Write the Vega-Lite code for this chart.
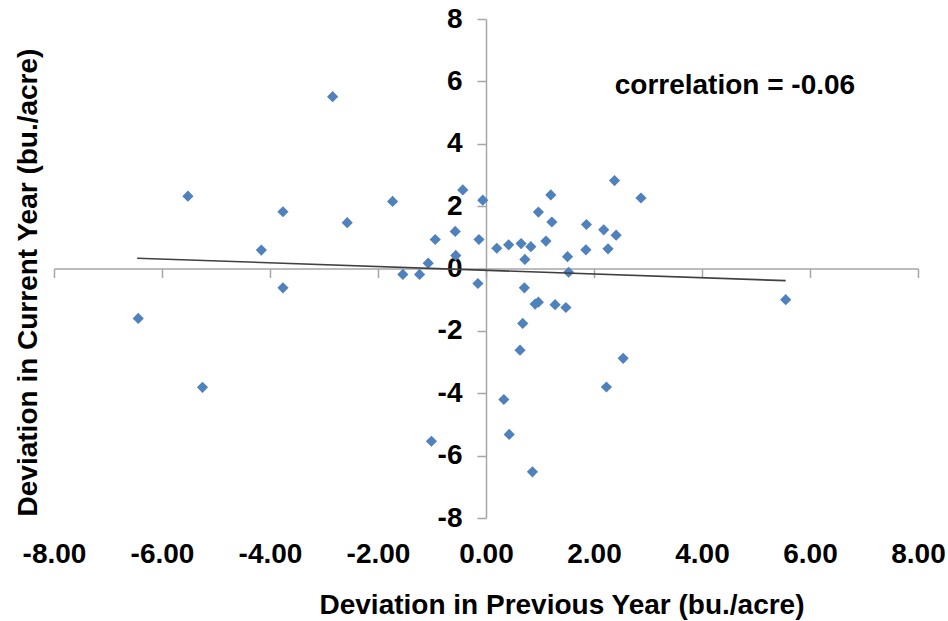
{
  "$schema": "https://vega.github.io/schema/vega-lite/v6.json",
  "width": 864,
  "height": 499,
  "autosize": "none",
  "padding": {"left": 54, "top": 19, "right": 30, "bottom": 103},
  "config": {
    "view": {"stroke": null},
    "locale": {"number": {"decimal": ".", "thousands": ",", "grouping": [3], "currency": ["$", ""], "minus": "-"}},
    "axis": {"grid": false}
  },
  "encoding": {
    "x": {
      "field": "x", "type": "quantitative",
      "scale": {"domain": [-8, 8], "nice": false, "zero": false},
      "axis": {
        "title": "Deviation in Previous Year (bu./acre)",
        "values": [-8, -6, -4, -2, 0, 2, 4, 6, 8],
        "format": ".2f",
        "offset": -249.5,
        "domainColor": "#a6a6a6", "domainWidth": 1.5,
        "tickColor": "#a6a6a6", "tickWidth": 1.5, "tickSize": 9,
        "labelPadding": 263,
        "labelFont": "Liberation Sans", "labelFontSize": 28, "labelFontWeight": "bold", "labelColor": "#000000",
        "labelFlush": false, "labelOverlap": false,
        "titleFont": "Liberation Sans", "titleFontSize": 28, "titleFontWeight": "bold", "titleColor": "#000000",
        "titleX": 507.5, "titleY": 344.5, "titleBaseline": "alphabetic", "titleAlign": "center"
      }
    },
    "y": {
      "field": "y", "type": "quantitative",
      "scale": {"domain": [-8, 8], "nice": false, "zero": false},
      "axis": {
        "title": "Deviation in Current Year (bu./acre)",
        "values": [-8, -6, -4, -2, 0, 2, 4, 6, 8],
        "format": "d",
        "offset": -432,
        "domainColor": "#a6a6a6", "domainWidth": 1.5,
        "tickColor": "#a6a6a6", "tickWidth": 1.5, "tickSize": 9,
        "labelPadding": 15,
        "labelFont": "Liberation Sans", "labelFontSize": 28, "labelFontWeight": "bold", "labelColor": "#000000",
        "labelFlush": false, "labelOverlap": false,
        "titleFont": "Liberation Sans", "titleFontSize": 28, "titleFontWeight": "bold", "titleColor": "#000000",
        "titleX": -450, "titleY": 263, "titleBaseline": "alphabetic", "titleAlign": "center", "titleAngle": -90
      }
    }
  },
  "layer": [
    {
      "data": {"values": [
        {"x": -6.44, "y": -1.60}, {"x": -5.52, "y": 2.32}, {"x": -5.25, "y": -3.81}, {"x": -4.16, "y": 0.59},
        {"x": -3.76, "y": 1.82}, {"x": -3.76, "y": -0.62}, {"x": -2.84, "y": 5.51}, {"x": -2.57, "y": 1.47},
        {"x": -1.73, "y": 2.15}, {"x": -1.54, "y": -0.19}, {"x": -1.23, "y": -0.19}, {"x": -1.07, "y": 0.17},
        {"x": -1.01, "y": -5.54}, {"x": -0.94, "y": 0.93}, {"x": -0.57, "y": 1.19}, {"x": -0.56, "y": 0.42},
        {"x": -0.43, "y": 2.52}, {"x": -0.15, "y": -0.48}, {"x": -0.13, "y": 0.93}, {"x": -0.06, "y": 2.19},
        {"x": 0.20, "y": 0.65}, {"x": 0.33, "y": -4.20}, {"x": 0.42, "y": 0.76}, {"x": 0.43, "y": -5.32},
        {"x": 0.63, "y": -2.62}, {"x": 0.65, "y": 0.80}, {"x": 0.68, "y": -1.76}, {"x": 0.71, "y": -0.62},
        {"x": 0.72, "y": 0.29}, {"x": 0.83, "y": 0.70}, {"x": 0.86, "y": -6.52}, {"x": 0.91, "y": -1.14},
        {"x": 0.97, "y": -1.08}, {"x": 0.97, "y": 1.81}, {"x": 1.11, "y": 0.88}, {"x": 1.20, "y": 2.36},
        {"x": 1.22, "y": 1.49}, {"x": 1.28, "y": -1.16}, {"x": 1.48, "y": -1.25}, {"x": 1.51, "y": 0.38},
        {"x": 1.53, "y": -0.12}, {"x": 1.85, "y": 0.60}, {"x": 1.86, "y": 1.41}, {"x": 2.18, "y": 1.24},
        {"x": 2.23, "y": -3.80}, {"x": 2.26, "y": 0.63}, {"x": 2.38, "y": 2.82}, {"x": 2.41, "y": 1.07},
        {"x": 2.54, "y": -2.88}, {"x": 2.87, "y": 2.26}, {"x": 5.55, "y": -1.00}
      ]},
      "mark": {"type": "point", "shape": "diamond", "filled": true, "size": 125, "color": "#4F81BD", "opacity": 1}
    },
    {
      "data": {"values": [{"x": -6.46, "y": 0.33}, {"x": 5.55, "y": -0.39}]},
      "mark": {"type": "line", "color": "#404040", "strokeWidth": 1.6}
    },
    {
      "data": {"values": [{"x": 4.61, "y": 5.84, "label": "correlation = -0.06"}]},
      "mark": {"type": "text", "font": "Liberation Sans", "fontWeight": "bold", "fontSize": 28, "align": "center", "baseline": "middle", "color": "#000000"},
      "encoding": {"text": {"field": "label"}}
    }
  ]
}
